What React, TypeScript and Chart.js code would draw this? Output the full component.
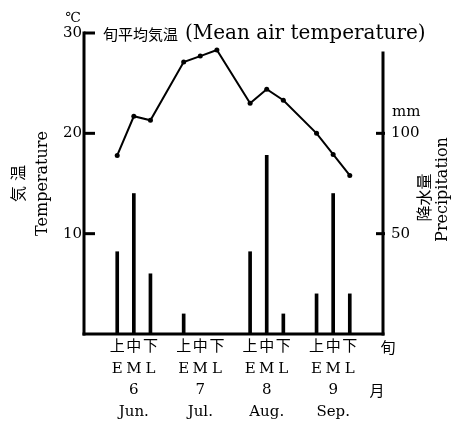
import React, { useEffect, useRef } from 'react';
import { Chart, registerables } from 'chart.js';

Chart.register(...registerables);

// ---- data ----
const monthNumbers = ['6', '7', '8', '9'];
const monthNames = ['Jun.', 'Jul.', 'Aug.', 'Sep.'];
const decadesJa = ['上', '中', '下'];
const decadesEn = ['E', 'M', 'L'];
// mean air temperature per 10-day period (°C)
const temperature = [17.8, 21.7, 21.3, 27.1, 27.7, 28.3, 23.0, 24.4, 23.3, 20.0, 17.9, 15.8];
// precipitation per 10-day period (mm)
const precipitation: (number | null)[] = [41, 70, 30, 10, null, null, 41, 89, 10, 20, 70, 20];
const tempTicks = [10, 20, 30];
const precipTicks = [50, 100];
const titleJa = '旬平均気温';
const titleEn = '(Mean air temperature)';
const leftTitle = ['気 温', 'Temperature'];
const rightTitleJa = '降水量';
const rightTitleEn = 'Precipitation';
const tempUnit = '℃';
const precipUnit = 'mm';
const decadeWord = '旬';
const monthWord = '月';

const FAMILY = "'DejaVu Serif', 'Noto Sans CJK JP', serif";
const CJK = "'Noto Sans CJK JP', sans-serif";
const SLOTS_PER_MONTH = 4;
const RIGHT_AXIS_TOP = 140;
const LH = 15 * 1.45;

const slotX = (i: number) => Math.floor(i / 3) * SLOTS_PER_MONTH + (i % 3);
const xTicks = temperature.map((_, i) => slotX(i));

function labelFor(i: number): string[] {
  const m = Math.floor(i / 3);
  const d = i % 3;
  const lines = [decadesJa[d], decadesEn[d]];
  if (d === 1) lines.push(monthNumbers[m], monthNames[m]);
  return lines;
}

const decor = {
  id: 'decor',
  afterDraw(chart: any) {
    const { ctx, chartArea: a, scales } = chart;
    const yT = scales.yT;
    const yP = scales.yP;
    const bottom = yT.getPixelForValue(0);
    const seg = (x1: number, y1: number, x2: number, y2: number) => {
      ctx.beginPath();
      ctx.moveTo(x1, y1);
      ctx.lineTo(x2, y2);
      ctx.stroke();
    };
    ctx.save();
    ctx.strokeStyle = '#000';
    ctx.lineWidth = 3;
    ctx.lineCap = 'square';
    seg(a.left, bottom, a.left, yT.getPixelForValue(30));
    seg(a.left, bottom, a.right, bottom);
    seg(a.right, bottom, a.right, yP.getPixelForValue(RIGHT_AXIS_TOP));
    ctx.lineCap = 'butt';
    tempTicks.forEach((v) => {
      const y = yT.getPixelForValue(v);
      seg(a.left, y, a.left + 11, y);
    });
    precipTicks.forEach((v) => {
      const y = yP.getPixelForValue(v);
      seg(a.right - 7, y, a.right + 2, y);
    });

    ctx.fillStyle = '#000';
    ctx.textBaseline = 'middle';
    // unit °C
    ctx.textAlign = 'center';
    ctx.font = `14px ${FAMILY}`;
    ctx.fillText(tempUnit, a.left - 11, a.top - 15);
    // title
    ctx.textAlign = 'left';
    ctx.font = `15px ${CJK}`;
    const tx = a.left + 19;
    const ty = a.top + 1;
    ctx.fillText(titleJa, tx, ty);
    const w = ctx.measureText(titleJa).width;
    ctx.font = `20px ${FAMILY}`;
    ctx.fillText(titleEn, tx + w + 7, ty);
    // mm
    ctx.font = `15px ${FAMILY}`;
    ctx.fillText(precipUnit, a.right + 9, yP.getPixelForValue(100) - 21);
    // 旬 / 月
    ctx.textAlign = 'center';
    ctx.font = `15px ${CJK}`;
    ctx.fillText(decadeWord, a.right + 5, bottom + 2 + LH * 0.5);
    ctx.fillText(monthWord, a.right - 6, bottom + 2 + LH * 2.5);
    // right titles, rotated
    const cy = (a.top + a.bottom) / 2 + 6;
    ctx.save();
    ctx.translate(a.right + 41, cy + 8);
    ctx.rotate(-Math.PI / 2);
    ctx.font = `16px ${CJK}`;
    ctx.fillText(rightTitleJa, 0, 0);
    ctx.restore();
    ctx.save();
    ctx.translate(a.right + 60, cy);
    ctx.rotate(-Math.PI / 2);
    ctx.font = `16px ${FAMILY}`;
    ctx.fillText(rightTitleEn, 0, 0);
    ctx.restore();
    ctx.restore();
  },
};

export default function App() {
  const ref = useRef<HTMLCanvasElement | null>(null);
  useEffect(() => {
    document.body.style.margin = '0';
    const canvas = ref.current;
    if (!canvas) return;
    const chart = new Chart(canvas, {
      type: 'bar',
      data: {
        datasets: [
          {
            type: 'line',
            label: 'Temperature',
            data: temperature.map((v, i) => ({ x: slotX(i), y: v })),
            yAxisID: 'yT',
            xAxisID: 'x',
            borderColor: '#000',
            backgroundColor: '#000',
            borderWidth: 2,
            pointRadius: 2.5,
            pointBackgroundColor: '#000',
            pointBorderWidth: 0,
            tension: 0,
            order: 0,
          } as any,
          {
            type: 'bar',
            label: 'Precipitation',
            data: precipitation.map((v, i) => ({ x: slotX(i), y: v })),
            yAxisID: 'yP',
            xAxisID: 'x',
            backgroundColor: '#000',
            borderWidth: 0,
            barThickness: 3,
            order: 1,
          } as any,
        ],
      },
      options: {
        responsive: false,
        animation: false,
        devicePixelRatio: 1,
        layout: { padding: { top: 33, left: 0, right: 0, bottom: 0 } },
        plugins: {
          legend: { display: false },
          tooltip: { enabled: false },
          title: { display: false },
        },
        scales: {
          x: {
            type: 'linear',
            position: 'bottom',
            min: -2,
            max: 16,
            offset: false,
            grid: { display: false, drawTicks: false, offset: false },
            border: { display: false },
            afterBuildTicks: (s: any) => {
              s.ticks = xTicks.map((v) => ({ value: v }));
            },
            afterFit: (s: any) => {
              s.height = 95;
            },
            ticks: {
              autoSkip: false,
              maxRotation: 0,
              minRotation: 0,
              padding: 2,
              color: '#000',
              font: { family: FAMILY, size: 15, lineHeight: 1.45 },
              callback: (_v: any, index: number) => labelFor(index),
            },
          },
          yT: {
            type: 'linear',
            position: 'left',
            min: 0,
            max: 30,
            grid: { display: false, drawTicks: false },
            border: { display: false },
            afterBuildTicks: (s: any) => {
              s.ticks = tempTicks.map((v) => ({ value: v }));
            },
            afterFit: (s: any) => {
              s.width = 84;
            },
            ticks: { padding: 2, color: '#000', font: { family: FAMILY, size: 15 } },
            title: {
              display: true,
              text: leftTitle,
              color: '#000',
              font: { family: FAMILY, size: 16, lineHeight: 1.45 },
              padding: { top: 8, bottom: 0 },
            },
          },
          yP: {
            type: 'linear',
            position: 'right',
            min: 0,
            max: 150,
            grid: { display: false, drawTicks: false },
            border: { display: false },
            afterBuildTicks: (s: any) => {
              s.ticks = precipTicks.map((v) => ({ value: v }));
            },
            afterFit: (s: any) => {
              s.width = 79;
            },
            ticks: { padding: 8, color: '#000', font: { family: FAMILY, size: 15 } },
          },
        },
      } as any,
      plugins: [decor],
    });
    return () => chart.destroy();
  }, []);
  return (
    <div style={{ width: 462, height: 429 }}>
      <canvas ref={ref} width={462} height={429} style={{ display: 'block' }} />
    </div>
  );
}
